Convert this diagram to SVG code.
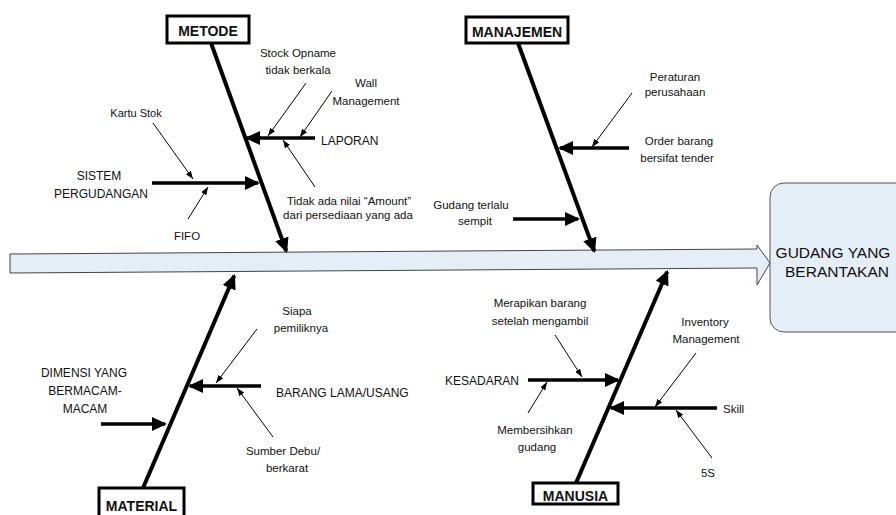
<svg xmlns="http://www.w3.org/2000/svg" width="896" height="515" viewBox="0 0 896 515">
<style>
text{font-family:"Liberation Sans",Arial,sans-serif;fill:#111;}
.s{font-size:11.5px;text-anchor:middle;}
.l{font-size:11.5px;}
.m{font-size:12px;}
.c{text-anchor:middle;}
.cat{font-size:14px;font-weight:bold;text-anchor:middle;}
.eff{font-size:15.5px;text-anchor:middle;}
.box{fill:#fff;stroke:#000;stroke-width:3;}
.bone{stroke:#000;stroke-width:4;fill:none;marker-end:url(#big);}
.sub{stroke:#000;stroke-width:3.5;fill:none;marker-end:url(#big);}
.thin{stroke:#000;stroke-width:1;fill:none;marker-end:url(#small);}
</style>
<defs>
<marker id="big" viewBox="0 0 15 14" refX="13" refY="7" markerWidth="15" markerHeight="14" markerUnits="userSpaceOnUse" orient="auto"><path d="M0,0 L15,7 L0,14 z" fill="#000"/></marker>
<marker id="small" viewBox="0 0 8 6" refX="8" refY="3" markerWidth="8" markerHeight="6" markerUnits="userSpaceOnUse" orient="auto"><path d="M0,0 L8,3 L0,6 z" fill="#000"/></marker>
</defs>
<g id="spine">
<path d="M10,254 L757,249 L757,245 L770,263 L757,285 L757,268 L10,273 Z" fill="#e5edf7" stroke="#444" stroke-width="1"/>
</g>
<g id="effect">
<rect x="770" y="183" width="140" height="149" rx="14" fill="#e5edf7" stroke="#555" stroke-width="1"/>
<text class="eff" x="833" y="258">GUDANG YANG</text>
<text class="eff" x="837" y="277">BERANTAKAN</text>
</g>
<g id="connectors">
<line class="bone" x1="211" y1="43" x2="286.3" y2="251.1"/>
<line class="bone" x1="518" y1="43" x2="594.3" y2="251.1"/>
<line class="bone" x1="143" y1="488" x2="234.2" y2="275.8"/>
<line class="bone" x1="576" y1="483" x2="667.2" y2="271.8"/>
<line class="sub" x1="315" y1="138" x2="247" y2="138"/>
<line class="sub" x1="152" y1="183" x2="258" y2="183"/>
<line class="sub" x1="629" y1="148" x2="560" y2="148"/>
<line class="sub" x1="513" y1="219" x2="578" y2="219"/>
<line class="sub" x1="261" y1="386" x2="190" y2="386"/>
<line class="sub" x1="101" y1="424" x2="165" y2="424"/>
<line class="sub" x1="528" y1="380" x2="618" y2="380"/>
<line class="sub" x1="717" y1="408" x2="611" y2="408"/>
<line class="thin" x1="306" y1="83" x2="268" y2="136"/>
<line class="thin" x1="332" y1="91" x2="300" y2="137"/>
<line class="thin" x1="315" y1="187" x2="283" y2="140"/>
<line class="thin" x1="153" y1="123" x2="193" y2="179"/>
<line class="thin" x1="188" y1="219" x2="208" y2="187"/>
<line class="thin" x1="632" y1="93" x2="592" y2="147"/>
<line class="thin" x1="257" y1="329" x2="216" y2="383"/>
<line class="thin" x1="273" y1="437" x2="237" y2="388"/>
<line class="thin" x1="555" y1="335" x2="582" y2="377"/>
<line class="thin" x1="528" y1="413" x2="547" y2="382"/>
<line class="thin" x1="696" y1="353" x2="655" y2="407"/>
<line class="thin" x1="712" y1="458" x2="676" y2="410"/>
</g>
<g id="metode">
<rect class="box" x="167" y="16" width="82" height="27"/>
<text class="cat" x="208" y="36">METODE</text>
</g>
<g id="manajemen">
<rect class="box" x="466" y="17" width="102" height="26"/>
<text class="cat" x="517" y="37">MANAJEMEN</text>
</g>
<g id="material">
<rect class="box" x="99" y="488" width="85" height="32"/>
<text class="cat" x="141.5" y="511">MATERIAL</text>
</g>
<g id="manusia">
<rect class="box" x="533" y="483" width="85" height="21"/>
<text class="cat" x="575.5" y="501">MANUSIA</text>
</g>
<g id="laporan"><text class="m" x="321" y="145">LAPORAN</text></g>
<g id="stock-opname"><text class="s" x="298" y="57">Stock Opname</text><text class="s" x="298" y="74">tidak berkala</text></g>
<g id="wall-management"><text class="s" x="366" y="87">Wall</text><text class="s" x="366" y="105">Management</text></g>
<g id="tidak-ada-nilai"><text class="s" x="349" y="205">Tidak ada nilai “Amount”</text><text class="s" x="348" y="219">dari persediaan yang ada</text></g>
<g id="sistem-pergudangan"><text class="m c" x="99" y="180">SISTEM</text><text class="m c" x="101" y="198">PERGUDANGAN</text></g>
<g id="kartu-stok"><text class="s" x="136" y="117" style="font-size:11px">Kartu Stok</text></g>
<g id="fifo"><text class="s" x="187" y="240">FIFO</text></g>
<g id="peraturan"><text class="s" x="675" y="81">Peraturan</text><text class="s" x="675" y="96">perusahaan</text></g>
<g id="order-barang"><text class="s" x="679" y="145">Order barang</text><text class="s" x="677" y="162">bersifat tender</text></g>
<g id="gudang-sempit"><text class="s" x="471" y="209">Gudang terlalu</text><text class="s" x="475" y="225">sempit</text></g>
<g id="siapa"><text class="s" x="297" y="315">Siapa</text><text class="s" x="301" y="332">pemiliknya</text></g>
<g id="barang-lama"><text class="m" x="276" y="397">BARANG LAMA/USANG</text></g>
<g id="sumber-debu"><text class="s" x="283" y="455">Sumber Debu/</text><text class="s" x="287" y="472">berkarat</text></g>
<g id="dimensi"><text class="m c" x="84" y="377">DIMENSI YANG</text><text class="m c" x="85" y="395">BERMACAM-</text><text class="m c" x="85" y="413">MACAM</text></g>
<g id="merapikan"><text class="s" x="540" y="307">Merapikan barang</text><text class="s" x="540" y="325">setelah mengambil</text></g>
<g id="kesadaran"><text class="m" x="519" y="385" text-anchor="end">KESADARAN</text></g>
<g id="membersihkan"><text class="s" x="535" y="434">Membersihkan</text><text class="s" x="537" y="451">gudang</text></g>
<g id="inventory"><text class="s" x="705" y="326">Inventory</text><text class="s" x="706" y="343">Management</text></g>
<g id="skill"><text class="l" x="723" y="413">Skill</text></g>
<g id="five-s"><text class="s" x="708" y="477">5S</text></g>
</svg>
